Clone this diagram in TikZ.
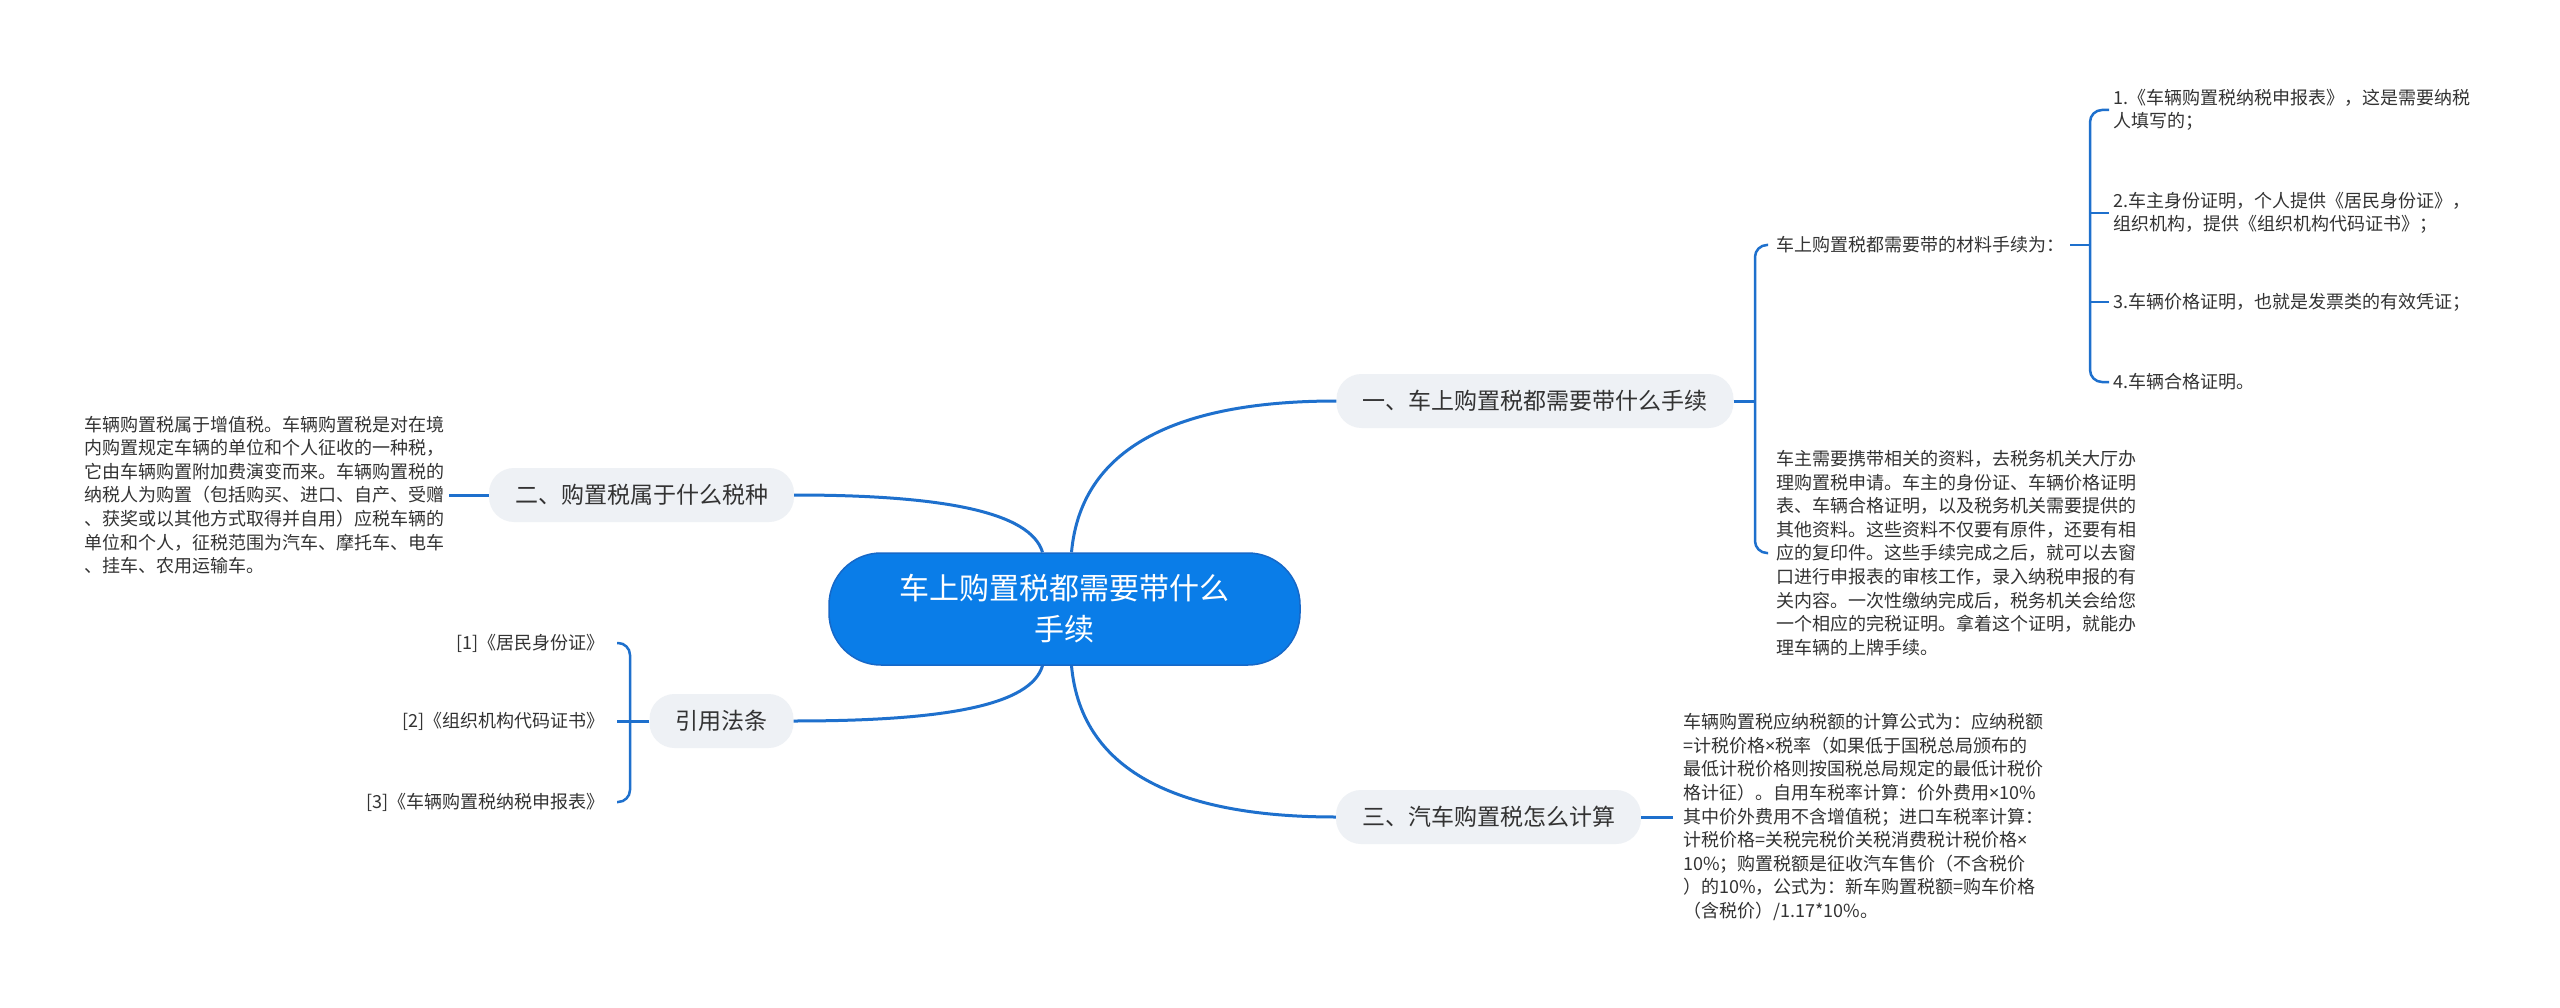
\documentclass[tikz,border=0pt]{standalone}
\usepackage{fontspec}
\setmainfont{Noto Sans CJK SC}
\newfontfamily\latinfont{Noto Sans}
\newcommand{\mytimes}{{\latinfont ×}}
\usetikzlibrary{calc}
\definecolor{linkblue}{RGB}{30,112,205}
\definecolor{rootblue}{RGB}{10,125,232}
\definecolor{rootedge}{RGB}{22,104,200}
\definecolor{branchgray}{RGB}{238,241,245}
\definecolor{textgray}{RGB}{51,51,51}
\begin{document}
\begin{tikzpicture}[x=1pt,y=-1pt,
  link/.style={draw=linkblue,line width=3pt},
  brk/.style={draw=linkblue,line width=2.5pt,rounded corners=12pt},
  rootnode/.style={fill=rootblue,draw=rootedge,line width=1.5pt,rounded corners=52pt,minimum width=471pt,minimum height=112pt,text=white,font=\fontsize{30}{41}\selectfont,align=center},
  branch/.style={fill=branchgray,rounded corners=25pt,minimum height=54pt,inner xsep=26pt,text=textgray,font=\fontsize{23}{28}\selectfont},
  leaf/.style={text=textgray,font=\fontsize{18}{23.6}\selectfont,inner sep=0pt,align=left},
]
\useasboundingbox[fill=white] (0,0) rectangle (2560,1008);

% root
\node[rootnode] (root) at (1064.5,609) {车上购置税都需要带什么\\手续};

% branches
\node[branch] (b1) at (1535,401) {一、车上购置税都需要带什么手续};
\node[branch] (b2) at (641.5,495) {二、购置税属于什么税种};
\node[branch] (b3) at (721.5,721) {引用法条};
\node[branch] (b4) at (1488.5,817) {三、汽车购置税怎么计算};

% root connectors
\coordinate (rtl) at ($(root.north)+(-22,0)$);
\coordinate (rtr) at ($(root.north)+(7,0)$);
\coordinate (rbl) at ($(root.south)+(-22,0)$);
\coordinate (rbr) at ($(root.south)+(7,0)$);
\draw[link] (rtr) .. controls +(10,-110) and +(-150,0) .. (b1.west);
\draw[link] (rtl) .. controls +(-12,-40) and +(150,0) .. (b2.east);
\draw[link] (rbl) .. controls +(-12,40) and +(150,0) .. (b3.east);
\draw[link] (rbr) .. controls +(10,110) and +(-150,0) .. (b4.west);

% branch 1 children
\node[leaf,anchor=west] (c1) at (1776,245) {车上购置税都需要带的材料手续为：};
\node[leaf,anchor=west] (p1) at (1776,553) {车主需要携带相关的资料，去税务机关大厅办\\理购置税申请。车主的身份证、车辆价格证明\\表、车辆合格证明，以及税务机关需要提供的\\其他资料。这些资料不仅要有原件，还要有相\\应的复印件。这些手续完成之后，就可以去窗\\口进行申报表的审核工作，录入纳税申报的有\\关内容。一次性缴纳完成后，税务机关会给您\\一个相应的完税证明。拿着这个证明，就能办\\理车辆的上牌手续。};
\coordinate (k1) at (1755,401);
\draw[link] (b1.east) -- (k1);
\draw[brk] ([xshift=-8pt]c1.west) -- (c1.west -| k1) -- (p1.west -| k1) -- ([xshift=-8pt]p1.west);

% grandchildren
\node[leaf,anchor=west] (g1) at (2113,110) {1.《车辆购置税纳税申报表》，这是需要纳税\\人填写的；};
\node[leaf,anchor=west] (g2) at (2113,213) {2.车主身份证明，个人提供《居民身份证》，\\组织机构，提供《组织机构代码证书》；};
\node[leaf,anchor=west] (g3) at (2113,302) {3.车辆价格证明，也就是发票类的有效凭证；};
\node[leaf,anchor=west] (g4) at (2113,382) {4.车辆合格证明。};
\coordinate (k2) at (2090,245);
\draw[link,line width=2.5pt] ([xshift=6pt]c1.east) -- (k2);
\draw[brk] ([xshift=-4pt]g1.west) -- (g1.west -| k2) -- (g4.west -| k2) -- ([xshift=-4pt]g4.west);
\draw[brk] ([xshift=-4pt]g2.west) -- (g2.west -| k2);
\draw[brk] ([xshift=-4pt]g3.west) -- (g3.west -| k2);

% branch 2 child
\node[leaf,anchor=east] (p2) at (445,495) {车辆购置税属于增值税。车辆购置税是对在境\\内购置规定车辆的单位和个人征收的一种税，\\它由车辆购置附加费演变而来。车辆购置税的\\纳税人为购置（包括购买、进口、自产、受赠\\、获奖或以其他方式取得并自用）应税车辆的\\单位和个人，征税范围为汽车、摩托车、电车\\、挂车、农用运输车。};
\draw[link] (b2.west) -- ([xshift=4pt]p2.east);

% branch 3 children
\node[leaf,anchor=east] (r1) at (605,643) {[1]《居民身份证》};
\node[leaf,anchor=east] (r2) at (605,721) {[2]《组织机构代码证书》};
\node[leaf,anchor=east] (r3) at (605,802) {[3]《车辆购置税纳税申报表》};
\coordinate (k3) at (630,721);
\draw[link] (b3.west) -- ([xshift=12pt]r2.east);
\draw[brk] ([xshift=12pt]r1.east) -- (r1.east -| k3) -- (r3.east -| k3) -- ([xshift=12pt]r3.east);

% branch 4 child
\node[leaf,anchor=west] (p4) at (1683,817) {车辆购置税应纳税额的计算公式为：应纳税额\\=计税价格\mytimes 税率（如果低于国税总局颁布的\\最低计税价格则按国税总局规定的最低计税价\\格计征）。自用车税率计算：价外费用\mytimes 10\%\\其中价外费用不含增值税；进口车税率计算：\\计税价格=关税完税价关税消费税计税价格\mytimes\\10\%；购置税额是征收汽车售价（不含税价\\）的10\%，公式为：新车购置税额=购车价格\\（含税价）/1.17*10\%。};
\draw[link] (b4.east) -- ([xshift=-10pt]p4.west);
\end{tikzpicture}
\end{document}
